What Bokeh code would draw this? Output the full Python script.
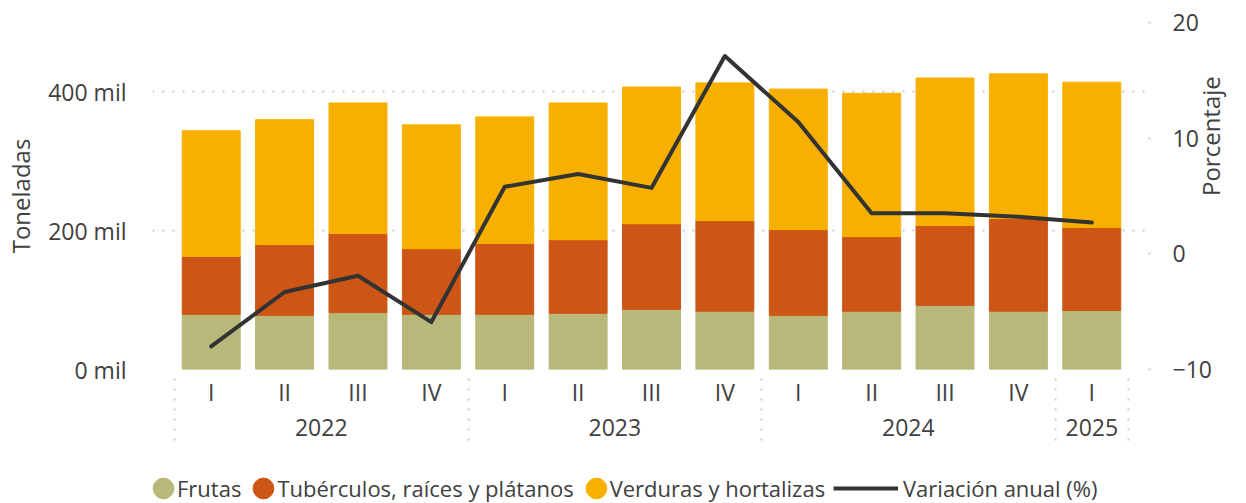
import math
from bokeh.plotting import figure
from bokeh.layouts import column
from bokeh.models import (ColumnDataSource, Range1d, LinearAxis, FixedTicker,
                          PrintfTickFormatter, Legend, LegendItem)
from bokeh.embed import file_html
from bokeh.resources import INLINE

# ---------------- data ----------------
quarters = ["I", "II", "III", "IV", "I", "II", "III", "IV", "I", "II", "III", "IV", "I"]
years = ["2022", "2023", "2024", "2025"]
year_centers = [1.5, 5.5, 9.5, 12]
year_bounds = [-0.5, 3.5, 7.5, 11.5, 12.5]
# thousand tonnes
frutas = [79.5, 78, 82, 79.5, 79.5, 81, 86.7, 84, 78, 84, 92.4, 84, 85]
tuberculos = [83.5, 102, 114, 94.5, 102, 106, 123.3, 130.5, 123.5, 107.5, 115.1, 133.5, 119.5]
verduras = [181, 180, 188, 178.5, 182.5, 197, 197, 198.5, 202.5, 206.5, 212.5, 208.5, 209.5]
# percent
variacion = [-8.0, -3.3, -1.9, -5.9, 5.8, 6.9, 5.7, 17.1, 11.4, 3.5, 3.5, 3.2, 2.7]

series = ["frutas", "tuberculos", "verduras"]
names = ["Frutas", "Tubérculos, raíces y plátanos", "Verduras y hortalizas"]
line_name = "Variación anual (%)"
colors = ["#B8B87A", "#CD5616", "#F8B000"]
line_color = "#333333"
text_color = "#404040"
grid_color = "#CCCCCC"
FONT = "Open Sans"

x = list(range(len(quarters)))
source = ColumnDataSource(dict(x=x, frutas=frutas, tuberculos=tuberculos,
                               verduras=verduras, variacion=variacion))

p = figure(width=1246, height=453,
           x_range=Range1d(-0.8, 12.8), y_range=Range1d(0, 500),
           output_backend="svg", toolbar_location=None,
           min_border_left=152, min_border_right=96,
           min_border_top=22, min_border_bottom=84)
p.outline_line_color = None
p.background_fill_color = "white"
p.border_fill_color = "white"

p.extra_y_ranges = {"pct": Range1d(-10, 20)}

p.vbar_stack(series, x="x", width=0.79, color=colors, source=source)
p.line(x="x", y="variacion", source=source, y_range_name="pct",
       line_width=4, line_color=line_color, line_join="round", line_cap="round")

# grid
p.xgrid.grid_line_color = None
p.ygrid.ticker = FixedTicker(ticks=[0, 200, 400])
p.ygrid.grid_line_color = grid_color
p.ygrid.grid_line_width = 2
p.ygrid.grid_line_dash = "2 8"

def style_axis(ax):
    ax.axis_line_color = None
    ax.major_tick_line_color = None
    ax.minor_tick_line_color = None
    ax.major_label_text_font = FONT
    ax.major_label_text_font_size = "23px"
    ax.major_label_text_color = text_color
    ax.axis_label_text_font = FONT
    ax.axis_label_text_font_size = "24px"
    ax.axis_label_text_font_style = "normal"
    ax.axis_label_text_color = text_color

# left axis
la = p.yaxis[0]
style_axis(la)
la.ticker = FixedTicker(ticks=[0, 200, 400])
la.formatter = PrintfTickFormatter(format="%d mil")
la.axis_label = "Toneladas"
la.major_label_standoff = 20
la.axis_label_standoff = 8

# right axis
ra = LinearAxis(y_range_name="pct", ticker=FixedTicker(ticks=[-10, 0, 10, 20]),
                axis_label="Porcentaje")
style_axis(ra)
ra.axis_label_orientation = math.pi / 2
ra.axis_label_text_line_height = 1.0
ra.major_tick_line_color = grid_color
ra.major_tick_line_width = 2
ra.major_tick_line_dash = "2 8"
ra.major_tick_in = 10
ra.major_tick_out = 0
ra.major_label_standoff = 22
ra.axis_label_standoff = -4
p.add_layout(ra, "right")

# quarter axis (bottom)
qa = p.xaxis[0]
style_axis(qa)
qa.ticker = FixedTicker(ticks=x)
qa.major_label_overrides = {i: q for i, q in zip(x, quarters)}
qa.major_tick_out = 0
qa.major_tick_in = 0
qa.major_label_standoff = 6

# year axis
ya = LinearAxis(ticker=FixedTicker(ticks=year_centers))
style_axis(ya)
ya.major_label_overrides = {c: y for c, y in zip(year_centers, years)}
ya.major_tick_out = 0
ya.major_tick_in = 0
ya.major_label_standoff = 8
p.add_layout(ya, "below")

# separator axis (dotted vertical separators between years)
sa = LinearAxis(ticker=FixedTicker(ticks=year_bounds))
style_axis(sa)
sa.major_label_text_color = None
sa.major_label_text_font_size = "1px"
sa.major_label_standoff = 0
sa.major_tick_line_color = grid_color
sa.major_tick_line_width = 2
sa.major_tick_line_dash = "2 8"
sa.major_tick_in = 68
sa.major_tick_out = 2
p.add_layout(sa, "below")

# ---------------- legend figure ----------------
pl = figure(width=1246, height=50, x_range=Range1d(0, 1), y_range=Range1d(0, 1),
            x_axis_type=None, y_axis_type=None,
            output_backend="svg", toolbar_location=None, min_border=0)
pl.outline_line_color = None
pl.grid.visible = False

nan = float("nan")
dummies = [pl.ellipse(x=[nan], y=[nan], width=20, height=20,
                      width_units="screen", height_units="screen",
                      fill_color=c, line_color=c) for c in colors]
line_dummy = pl.line(x=[nan], y=[nan], line_width=4, line_color=line_color)

def style_legend(lg):
    lg.orientation = "horizontal"
    lg.border_line_color = None
    lg.background_fill_alpha = 0
    lg.padding = 0
    lg.margin = 0
    lg.label_text_font = FONT
    lg.label_text_font_size = "22px"
    lg.label_text_color = text_color

leg1 = Legend(items=[LegendItem(label=n, renderers=[r]) for n, r in zip(names, dummies)],
              location=(-2, 0))
style_legend(leg1)
leg1.glyph_width = 26
leg1.glyph_height = 26
leg1.label_standoff = 1
leg1.spacing = 9
pl.add_layout(leg1, "center")

leg2 = Legend(items=[LegendItem(label=line_name, renderers=[line_dummy])],
              location=(681, 0))
style_legend(leg2)
leg2.glyph_width = 65
leg2.glyph_height = 26
leg2.label_standoff = 5
pl.add_layout(leg2, "center")

layout = column(p, pl, spacing=0)
open("out.html", "w").write(file_html(layout, INLINE))
